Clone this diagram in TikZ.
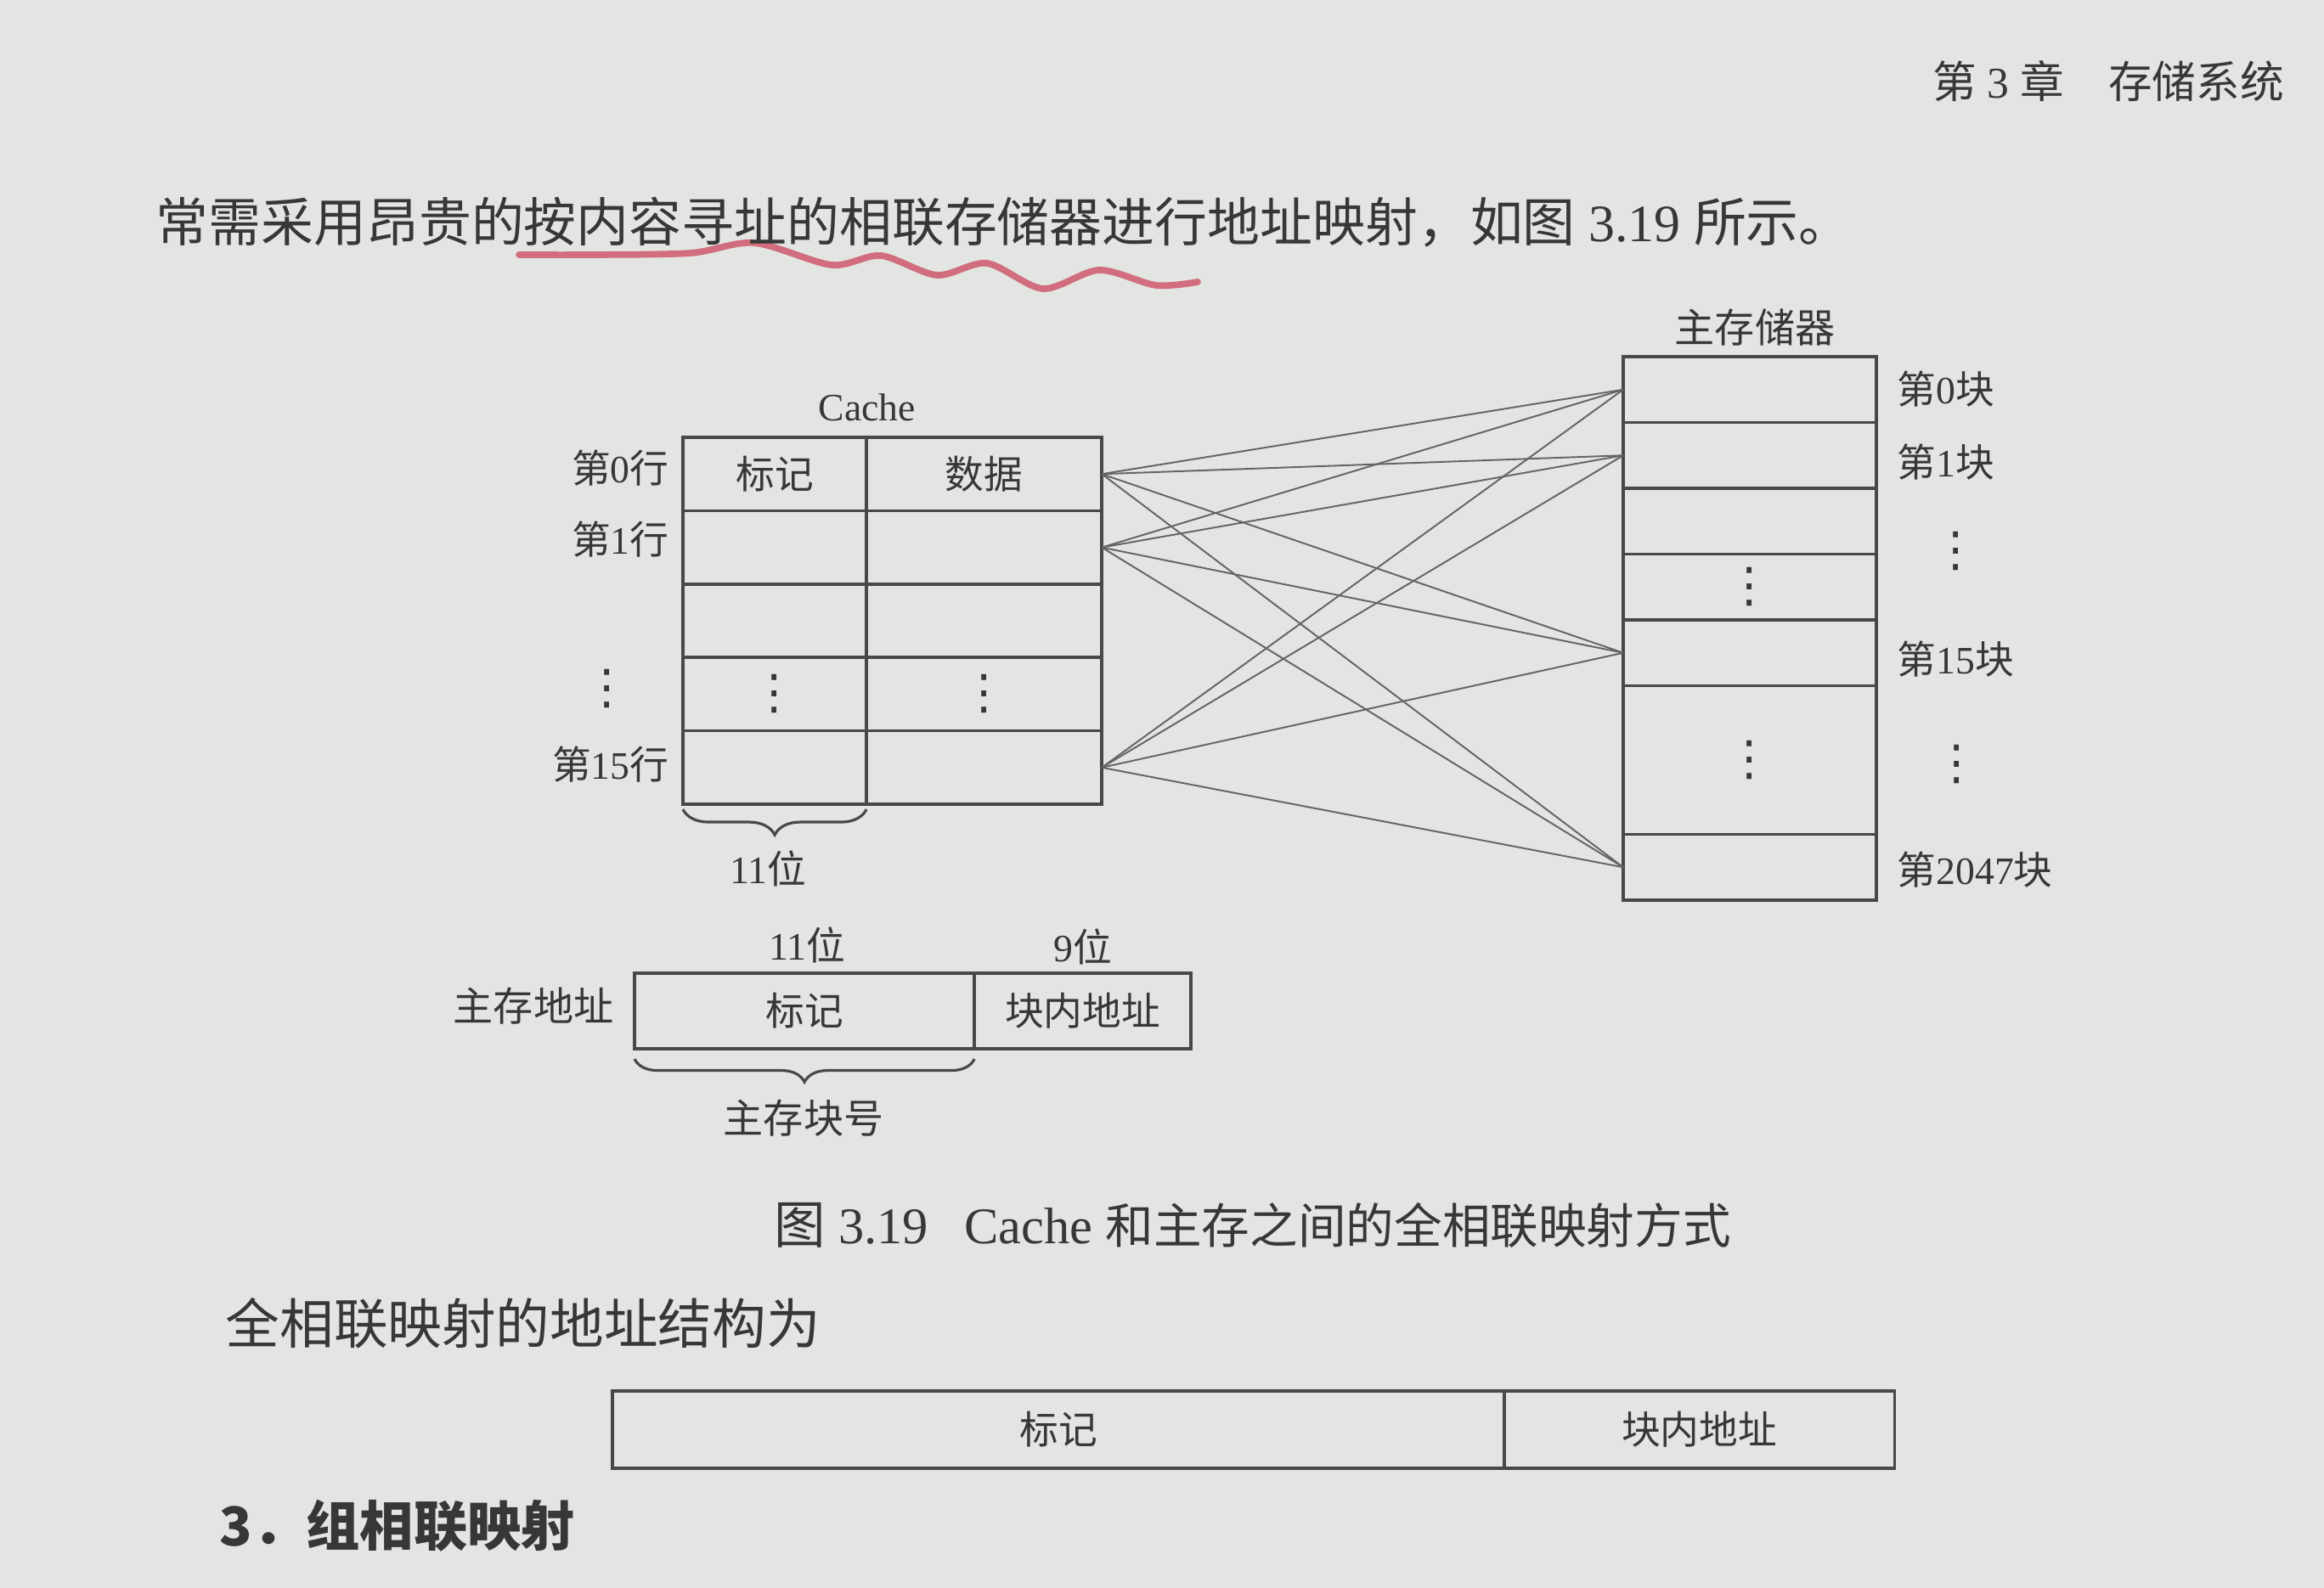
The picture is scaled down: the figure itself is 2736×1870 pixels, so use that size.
\documentclass[tikz,border=0pt]{standalone}
\usepackage{fontspec}
\setmainfont{Liberation Serif}
\newfontfamily\cjk{Noto Sans CJK SC}
\newfontfamily\symf{DejaVu Sans}
\usetikzlibrary{decorations.pathreplacing}

\definecolor{paper}{RGB}{226,229,225}
\definecolor{ink}{RGB}{55,55,55}
\definecolor{rulecol}{RGB}{72,72,72}
\definecolor{wirecol}{RGB}{100,100,100}
\definecolor{pencol}{RGB}{205,80,100}

\newcommand{\setfs}[1]{\fontsize{#1}{#1}\selectfont}
% vertical ellipsis as a single glyph
\newcommand{\vdts}{{\symf\setfs{16pt}⋮}}

\tikzset{
  cell/.style={draw=rulecol,line width=1pt,inner sep=0pt,outer sep=0pt,
               anchor=north west,text=ink,font=\setfs{13pt}\cjk},
  lbl/.style={text=ink,inner sep=0pt,font=\setfs{13pt}},
  bodytext/.style={text=ink,inner sep=0pt,anchor=west},
  wire/.style={draw=wirecol,line width=0.55pt},
  bracket/.style={draw=rulecol,line width=0.9pt,decorate,
                  decoration={brace,mirror,amplitude=0.3cm}},
}

\begin{document}
\begin{tikzpicture}[x=0.01cm,y=-0.01cm]
  % page
  \fill[paper] (0,0) rectangle (2736,1870);
  \useasboundingbox (0,0) rectangle (2736,1870);

  % running head
  \node[text=ink,inner sep=0pt,font=\setfs{14.7pt}] (head) at (2482,96)
    {{\cjk 第} 3 {\cjk 章}\quad{\cjk 存储系统}};

  % pen mark under the sentence
  \draw[pencol,line width=2.2pt,opacity=0.8,line cap=round,line join=round]
    plot[smooth] coordinates {(611,300) (697,300) (813,298) (888,286)
      (979,312) (1037,301) (1103,324) (1162,310) (1228,340) (1294,318)
      (1361,336) (1410,332)};

  % sentence
  \node[bodytext,font=\setfs{17.6pt}] (para) at (183,262)
    {{\cjk 常需采用昂贵的按内容寻址的相联存储器进行地址映射，如图} 3.19 {\cjk 所示。}};

  % ---------- Cache: 16 lines, tag | data ----------
  \node[lbl] (cachetitle) at (1021,480) {Cache};
  \foreach \i/\tagtxt/\datatxt in {0/标记/数据,1//,2//,3/\vdts/\vdts,4//}{
    \node[cell,minimum width=2.16cm,minimum height=0.864cm] (t\i) at (804,{515+86.4*\i}) {\tagtxt};
    \node[cell,minimum width=2.77cm,minimum height=0.864cm] (d\i) at (1020,{515+86.4*\i}) {\datatxt};
  }

  \node[lbl,anchor=east] (r0) at (788,551) {{\cjk 第}0{\cjk 行}};
  \node[lbl,anchor=east] (r1) at (788,635) {{\cjk 第}1{\cjk 行}};
  \node[lbl] (rdots) at (715,811) {\vdts};
  \node[lbl,anchor=east] (r15) at (788,900) {{\cjk 第}15{\cjk 行}};

  \draw[bracket] ([yshift=-0.06cm]t4.south west) -- ([yshift=-0.06cm]t4.south east);
  \node[lbl] (bits11a) at (904,1023) {11{\cjk 位}};

  % ---------- main memory: 2048 blocks ----------
  \node[lbl,font=\setfs{13.4pt}\cjk] (memtitle) at (2066,386) {主存储器};
  \foreach \i/\blktxt in {0/,1/,2/,3/\vdts,4/}{
    \node[cell,minimum width=2.98cm,minimum height=0.775cm] (m\i) at (1911,{420+77.5*\i}) {\blktxt};
  }
  \node[cell,minimum width=2.98cm,minimum height=1.75cm] (m5) at (1911,807.5) {\vdts};
  \node[cell,minimum width=2.98cm,minimum height=0.775cm] (m6) at (1911,982.5) {};

  \node[lbl,anchor=west] (b0) at (2233,458) {{\cjk 第}0{\cjk 块}};
  \node[lbl,anchor=west] (b1) at (2233,544) {{\cjk 第}1{\cjk 块}};
  \node[lbl] (bdotsa) at (2303,649) {\vdts};
  \node[lbl,anchor=west] (b15) at (2233,776) {{\cjk 第}15{\cjk 块}};
  \node[lbl] (bdotsb) at (2304,900) {\vdts};
  \node[lbl,anchor=west] (b2047) at (2233,1024) {{\cjk 第}2047{\cjk 块}};

  % any cache line may hold any memory block
  \foreach \c in {d0,d1,d4}{
    \foreach \m in {m0,m1,m4,m6}{
      \draw[wire] (\c.east) -- (\m.west);
    }
  }

  % ---------- main memory address ----------
  \node[lbl] (bits11b) at (950,1113) {11{\cjk 位}};
  \node[lbl] (bits9) at (1275,1115) {9{\cjk 位}};
  \node[lbl,anchor=east,font=\setfs{13.4pt}\cjk] (addrname) at (723,1185) {主存地址};
  \node[cell,minimum width=4.00cm,minimum height=0.89cm] (atag) at (747,1146) {标记};
  \node[cell,minimum width=2.55cm,minimum height=0.89cm] (aoff) at (1147,1146) {块内地址};
  \draw[bracket,decoration={brace,mirror,amplitude=0.27cm}]
    ([yshift=-0.12cm]atag.south west) -- ([yshift=-0.12cm]atag.south east);
  \node[lbl,font=\setfs{13.4pt}\cjk] (blockno) at (946,1317) {主存块号};

  % caption
  \node[bodytext,font=\setfs{17.2pt}] (caption) at (911,1443)
    {{\cjk 图} 3.19\hspace{0.7em}Cache {\cjk\setfs{16.1pt}和主存之间的全相联映射方式}};

  % following text
  \node[bodytext,font=\setfs{18.1pt}\cjk] (struct) at (265,1558) {全相联映射的地址结构为};
  \node[cell,minimum width=10.50cm,minimum height=0.91cm] (ttag) at (721,1638) {标记};
  \node[cell,minimum width=4.59cm,minimum height=0.91cm] (toff) at (1771,1638) {块内地址};

  \node[bodytext,font=\setfs{18pt}\cjk\bfseries] (section) at (258,1797) {3．组相联映射};
\end{tikzpicture}
\end{document}
